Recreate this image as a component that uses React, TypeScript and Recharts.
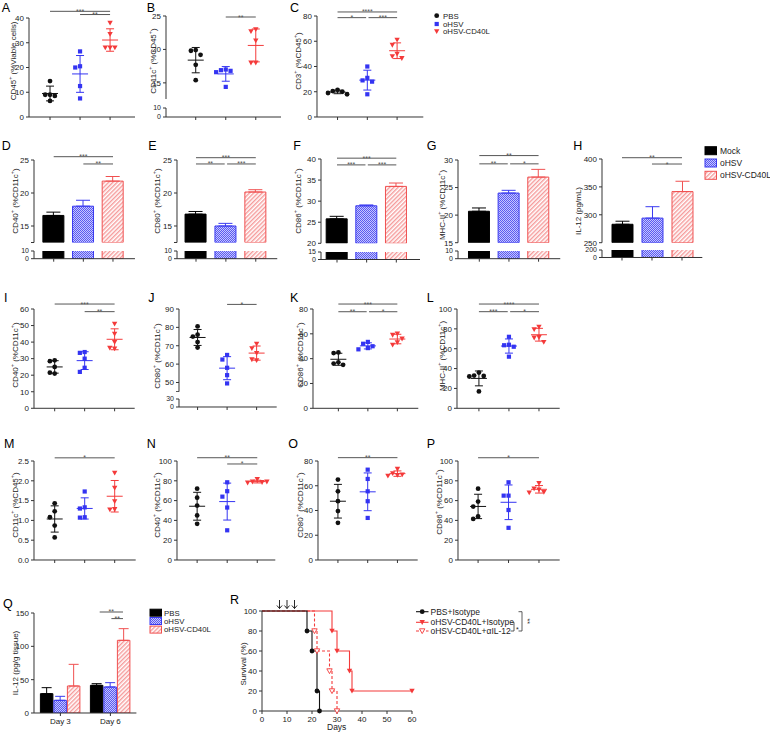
import React from "react";
import {
  ComposedChart,
  LineChart,
  Line,
  Scatter,
  Bar,
  ErrorBar,
  XAxis,
  YAxis,
  ReferenceLine,
  ReferenceDot,
} from "recharts";

const FONT = "'Liberation Sans', Arial, Helvetica, sans-serif";
const INK = "#222";
const AXIS = "#333";
const SIG = "#555";
const COLORS = ["#111111", "#3434f2", "#f43a3a"];
const BAR_FILLS = ["#000000", "url(#blueHatch)", "url(#redHatch)"];
const BAR_STROKES = ["#000000", "#3a3af0", "#f05050"];
const TICK = { fontSize: 8, fill: INK, fontFamily: FONT };

const GROUPS = ["PBS", "oHSV", "oHSV-CD40L"];
const BAR_GROUPS = ["Mock", "oHSV", "oHSV-CD40L"];

// individual mice (PBS, oHSV, oHSV-CD40L)
const cd45Viable = [[14.5, 9, 9, 8.5, 6.5], [26.5, 20.5, 20, 12.5, 7.5], [38, 33.5, 28, 28, 28]];
const cd11cOfCd45 = [[19.9, 19.8, 19.2, 17.7, 15.4], [17, 16.9, 16.8, 16.6, 14.4], [23, 22.7, 21.3, 18, 18]];
const cd3OfCd45 = [[21.5, 20.5, 20, 19, 18], [40, 31, 29, 28, 18], [61, 57, 50, 48, 46.5]];
const cd40I = [[29, 28.5, 25, 21.5, 21], [34, 33.5, 30, 24.5, 22], [51, 45, 40, 36.5, 36]];
const cd80J = [[80.5, 76, 75, 72, 69], [65, 62.5, 58, 54, 49.5], [71, 68.5, 66, 62, 62.5]];
const cd86K = [[45, 44.5, 37, 36, 35], [53.5, 52, 50, 48.5, 47.5], [60, 59, 56, 53, 51]];
const mhcL = [[36, 33, 32.5, 32, 17], [72, 64, 63.5, 62, 52], [82, 79.5, 71.5, 71, 66.5]];
const cd11cM = [[1.43, 1.23, 1.08, 0.87, 0.57], [1.73, 1.33, 1.3, 1.08, 1.07], [2.2, 1.82, 1.48, 1.28, 1.27]];
const cd40N = [[72, 63, 55, 45, 36.5], [78.5, 69.5, 64, 53, 30], [81.5, 79, 78.5, 78, 79]];
const cd80O = [[65, 55.5, 47.5, 39.5, 30], [73, 65.5, 55.5, 47.5, 34], [73.5, 70, 69, 68.5, 68]];
const cd86P = [[72, 59, 54, 44, 41.5], [78.5, 65, 65, 50.5, 32.5], [77.5, 72, 71, 68.5, 68]];

// bar panels D–H (Mock, oHSV, oHSV-CD40L): mean and error
const cd40Mean = [16.6, 18.0, 21.8];
const cd40Err = [0.5, 0.9, 0.7];
const cd80Mean = [16.8, 15.0, 20.15];
const cd80Err = [0.4, 0.4, 0.35];
const cd86Mean = [25.8, 28.9, 33.5];
const cd86Err = [0.6, 0.2, 0.8];
const mhcMean = [20.7, 24.0, 26.9];
const mhcErr = [0.6, 0.5, 1.4];
const il12Mean = [283, 294, 341.6];
const il12Err = [5.5, 20.5, 18.5];

// Q
const DAYS = ["Day 3", "Day 6"];
const qPBS = [29, 41.5];
const qOHSV = [19, 39];
const qCD40L = [40.5, 109];
const qPBSErr = [9, 2.5];
const qOHSVErr = [6, 6.5];
const qCD40LErr = [32.5, 17.5];

// R survival
const R_SERIES = ["PBS+Isotype", "oHSV-CD40L+Isotype", "oHSV-CD40L+αIL-12"];
const rDaysPBS = [0, 18, 20, 22, 23];
const rSurvPBS = [100, 80, 60, 20, 0];
const rDaysCD40L = [0, 28, 30, 35, 36, 60];
const rSurvCD40L = [100, 80, 60, 40, 20, 20];
const rDaysAnti = [0, 21, 22, 27, 28, 30];
const rSurvAnti = [100, 80, 60, 40, 20, 0];
const INJECTION_DAYS = [7, 10, 13];

const YW = 30;
const MT = 14;
const MR = 2;
const XH = 7;

type Sig = [number, number, number, string];

function mean(a: number[]) {
  return a.reduce((s, v) => s + v, 0) / a.length;
}
function sd(a: number[]) {
  const m = mean(a);
  return Math.sqrt(a.reduce((s, v) => s + (v - m) * (v - m), 0) / (a.length - 1));
}
// simple beeswarm: spread points that would overlap
function swarm(vals: number[], thr: number) {
  const placed: { v: number; o: number }[] = [];
  const slots = [0, -1, 1, -2, 2];
  return vals.map((v) => {
    const o = slots.find((s) => !placed.some((p) => p.o === s && Math.abs(p.v - v) < thr)) ?? 0;
    placed.push({ v, o });
    return o;
  });
}

function Mark({ kind, cx, cy, color, open }: any) {
  if (cx == null || cy == null) return <g />;
  if (kind === 0) return <circle cx={cx} cy={cy} r={2.4} fill={color} />;
  if (kind === 1) return <rect x={cx - 2.1} y={cy - 2.1} width={4.2} height={4.2} fill={color} />;
  return (
    <polygon
      points={`${cx - 2.7},${cy - 2.2} ${cx + 2.7},${cy - 2.2} ${cx},${cy + 2.6}`}
      fill={open ? "#fff" : color}
      stroke={open ? color : "none"}
      strokeWidth={0.9}
    />
  );
}

function sigMarks(sig: Sig[]) {
  return sig.flatMap(([a, b, y, txt], i) => [
    <ReferenceLine
      key={`sl${i}`}
      segment={[{ x: a, y }, { x: b, y }]}
      stroke={SIG}
      strokeWidth={1}
      ifOverflow="visible"
    />,
    <ReferenceDot
      key={`st${i}`}
      x={(a + b) / 2}
      y={y}
      r={0}
      ifOverflow="visible"
      shape={(p: any) => (
        <text x={p.cx} y={p.cy + 2.5} textAnchor="middle" fontSize={7} fill={SIG} fontFamily={FONT}>
          {txt}
        </text>
      )}
    />,
  ]);
}

// transparent layer carrying significance bars over a bar chart (numeric x: 1..3 = group centres)
function SigLayer({ l, t, b, r, xd, yd, sig }: any) {
  return (
    <div style={{ position: "absolute", left: l - YW, top: t - MT, pointerEvents: "none" }}>
      <ComposedChart width={YW + r - l + MR} height={MT + b - t} margin={{ top: MT, right: MR, bottom: 0, left: YW }}>
        <XAxis type="number" dataKey="x" domain={xd} hide allowDataOverflow />
        <YAxis type="number" dataKey="y" domain={yd} hide allowDataOverflow />
        {sigMarks(sig)}
      </ComposedChart>
    </div>
  );
}

interface DotCfg {
  vals: number[][];
  box: number[];
  xd: number[];
  yd: number[];
  ticks: number[];
  blank?: number[];
  dec?: number;
  brk?: { top: number; t: number; b: number };
  sig: Sig[];
}

const DOT_PANELS: DotCfg[] = [
  { vals: cd45Viable, box: [29, 17.7, 135, 116.7], xd: [0.3, 3.83], yd: [0, 40], ticks: [0, 10, 20, 30, 40],
    sig: [[1, 3, 42.7, "***"], [2, 3, 41.4, "**"]] },
  { vals: cd11cOfCd45, box: [166, 15.7, 281, 99.3], xd: [0.01, 3.84], yd: [12.5, 25], ticks: [12.5, 15, 20, 25], blank: [12.5],
    brk: { top: 10, t: 107.7, b: 116.7 }, sig: [[2, 3, 24.85, "**"]] },
  { vals: cd3OfCd45, box: [316.7, 15.7, 423, 116.7], xd: [0.31, 3.88], yd: [0, 80], ticks: [0, 20, 40, 60, 80],
    sig: [[1, 3, 83.2, "****"], [1, 1.96, 78.7, "*"], [2.04, 3, 78.7, "***"]] },
  { vals: cd40I, box: [34.3, 309, 135, 408.3], xd: [0.31, 3.67], yd: [0, 60], ticks: [0, 10, 20, 30, 40, 50, 60],
    sig: [[1, 3, 63, "***"], [2, 3, 58.4, "**"]] },
  { vals: cd80J, box: [179, 309, 276.7, 391.7], xd: [0.37, 3.68], yd: [45, 90], ticks: [45, 50, 60, 70, 80, 90], blank: [45],
    brk: { top: 30, t: 399.3, b: 407.3 }, sig: [[2, 3, 92.5, "*"]] },
  { vals: cd86K, box: [312.7, 309, 418, 408.3], xd: [0.14, 3.71], yd: [0, 80], ticks: [0, 20, 40, 60, 80],
    sig: [[1, 3, 84, "***"], [1, 1.96, 77.8, "**"], [2.04, 3, 77.8, "*"]] },
  { vals: mhcL, box: [457.3, 309, 560, 408.3], xd: [0.27, 3.69], yd: [0, 100], ticks: [0, 20, 40, 60, 80, 100],
    sig: [[1, 3, 105, "****"], [1, 1.96, 97.3, "***"], [2.04, 3, 97.3, "*"]] },
  { vals: cd11cM, box: [34.3, 461, 136, 560], xd: [0.31, 3.7], yd: [0, 2.5], ticks: [0, 0.5, 1, 1.5, 2, 2.5], dec: 1,
    sig: [[1, 3, 2.58, "*"]] },
  { vals: cd40N, box: [176.7, 461, 275, 560], xd: [0.33, 3.6], yd: [0, 100], ticks: [0, 20, 40, 60, 80, 100],
    sig: [[1, 3, 103.3, "**"], [2, 3, 97, "*"]] },
  { vals: cd80O, box: [318.3, 461, 418, 560], xd: [0.33, 3.68], yd: [0, 80], ticks: [0, 20, 40, 60, 80],
    sig: [[1, 3, 82.7, "**"]] },
  { vals: cd86P, box: [458.3, 461, 560, 560], xd: [0.34, 3.68], yd: [0, 100], ticks: [0, 20, 40, 60, 80, 100],
    sig: [[1, 3, 103.3, "*"]] },
];

function DotChart({ c }: { c: DotCfg }) {
  const [l, t, r, b] = c.box;
  const span = c.yd[1] - c.yd[0];
  const xh = c.brk ? 0 : XH;
  const fmt = (v: number) => (c.blank?.includes(v) ? "" : c.dec ? v.toFixed(c.dec) : String(v));
  const series = c.vals.flatMap((vals, gi) => {
    const offs = swarm(vals, span * 0.06);
    const pts = vals.map((v, k) => ({ x: gi + 1 + offs[k] * 0.16, y: v }));
    const summary = [{ x: gi + 1, y: mean(vals), sd: sd(vals) }];
    return [
      <Scatter
        key={`p${gi}`}
        data={pts}
        isAnimationActive={false}
        shape={(p: any) => <Mark kind={gi} cx={p.cx} cy={p.cy} color={COLORS[gi]} />}
      />,
      <Scatter
        key={`m${gi}`}
        data={summary}
        isAnimationActive={false}
        shape={(p: any) => (
          <line x1={p.cx - 8} x2={p.cx + 8} y1={p.cy} y2={p.cy} stroke={COLORS[gi]} strokeWidth={1} />
        )}
      >
        <ErrorBar dataKey="sd" direction="y" width={4} stroke={COLORS[gi]} strokeWidth={1} isAnimationActive={false} />
      </Scatter>,
    ];
  });
  return (
    <>
      <div style={{ position: "absolute", left: l - YW, top: t - MT }}>
        <ComposedChart width={YW + r - l + MR} height={MT + b - t + xh} margin={{ top: MT, right: MR, bottom: 0, left: 0 }}>
          <XAxis type="number" dataKey="x" domain={c.xd} ticks={[1, 2, 3]} tickFormatter={() => ""} hide={!!c.brk}
            height={XH} tickSize={3} stroke={AXIS} allowDataOverflow />
          <YAxis type="number" dataKey="y" domain={c.yd} ticks={c.ticks} tickFormatter={fmt} width={YW} tickSize={3}
            tick={TICK} stroke={AXIS} allowDataOverflow interval={0} />
          {sigMarks(c.sig)}
          {series}
        </ComposedChart>
      </div>
      {c.brk && (
        <div style={{ position: "absolute", left: l - YW, top: c.brk.t - 5 }}>
          <ComposedChart width={YW + r - l + MR} height={5 + c.brk.b - c.brk.t + XH} margin={{ top: 5, right: MR, bottom: 0, left: 0 }}>
            <XAxis type="number" dataKey="x" domain={c.xd} ticks={[1, 2, 3]} tickFormatter={() => ""} height={XH}
              tickSize={3} stroke={AXIS} allowDataOverflow />
            <YAxis type="number" dataKey="y" domain={[0, c.brk.top]} ticks={[0, c.brk.top]} width={YW} tickSize={3}
              tick={{ ...TICK, fontSize: 7 }} stroke={AXIS} allowDataOverflow interval={0} />
          </ComposedChart>
        </div>
      )}
    </>
  );
}

interface BarCfg {
  mean: number[];
  err: number[];
  l: number;
  r: number;
  ctr: number[];
  up: number[];
  yd: number[];
  ticks: number[];
  blank?: number[];
  lo: number[];
  loTop: number;
  sig: Sig[];
}

const BAR_PANELS: BarCfg[] = [
  { mean: cd40Mean, err: cd40Err, l: 34, r: 135, ctr: [53.7, 83, 113], up: [160, 242.5], yd: [12.5, 25],
    ticks: [12.5, 15, 20, 25], blank: [12.5], lo: [251, 258.7], loTop: 10,
    sig: [[1, 3, 25.5, "***"], [2, 3, 24.4, "**"]] },
  { mean: cd80Mean, err: cd80Err, l: 176.7, r: 277, ctr: [195.7, 225.7, 255.5], up: [160, 242.5], yd: [12.5, 25],
    ticks: [12.5, 15, 20, 25], blank: [12.5], lo: [251, 258.7], loTop: 10,
    sig: [[1, 3, 25.35, "***"], [1, 1.96, 24.4, "**"], [2.04, 3, 24.4, "***"]] },
  { mean: cd86Mean, err: cd86Err, l: 321, r: 420, ctr: [337, 366.3, 396.3], up: [159, 243.3], yd: [20, 40],
    ticks: [20, 25, 30, 35, 40], lo: [251.5, 259], loTop: 15,
    sig: [[1, 3, 40.2, "***"], [1, 1.96, 38.6, "***"], [2.04, 3, 38.6, "***"]] },
  { mean: mhcMean, err: mhcErr, l: 457.7, r: 560, ctr: [479, 508.3, 538.3], up: [160, 242.7], yd: [15, 30],
    ticks: [15, 20, 25, 30], lo: [251, 258.7], loTop: 10,
    sig: [[1, 3, 30.8, "**"], [1, 1.96, 29.3, "**"], [2.04, 3, 29.3, "*"]] },
  { mean: il12Mean, err: il12Err, l: 601.7, r: 702, ctr: [621.7, 651.7, 681.7], up: [159, 242.7], yd: [250, 400],
    ticks: [250, 300, 350, 400], lo: [250, 257.5], loTop: 200,
    sig: [[1, 3, 402.3, "**"], [2, 3, 391, "*"]] },
];

function BarPanel({ c }: { c: BarCfg }) {
  const s = (c.ctr[2] - c.ctr[0]) / 2;
  const pad = { left: c.ctr[0] - c.l - s / 2, right: c.r - c.ctr[2] - s / 2 };
  const nd = [1 - (c.ctr[0] - c.l) / s, 3 + (c.r - c.ctr[2]) / s];
  const rows = BAR_GROUPS.map((g, i) => ({ name: g, [`v${i}`]: c.mean[i], [`e${i}`]: [0, c.err[i]] }));
  const w = YW + c.r - c.l + MR;
  const MB = 5;
  const fmt = (v: number) => (c.blank?.includes(v) ? "" : String(v));
  const bars = (withErr: boolean) =>
    BAR_GROUPS.map((g, i) => (
      <Bar key={g} dataKey={`v${i}`} fill={BAR_FILLS[i]} stroke={BAR_STROKES[i]} strokeWidth={1}
        barSize={21} isAnimationActive={false}>
        {withErr && (
          <ErrorBar dataKey={`e${i}`} direction="y" width={7} stroke={BAR_STROKES[i]} strokeWidth={1} isAnimationActive={false} />
        )}
      </Bar>
    ));
  return (
    <>
      <div style={{ position: "absolute", left: c.l - YW, top: c.up[0] - MT }}>
        <ComposedChart width={w} height={MT + c.up[1] - c.up[0] + MB} data={rows} barGap={-21}
          margin={{ top: MT, right: MR, bottom: MB, left: 0 }}>
          <XAxis dataKey="name" type="category" padding={pad} hide />
          <YAxis type="number" domain={c.yd} ticks={c.ticks} tickFormatter={fmt} width={YW} tickSize={3} tick={TICK}
            stroke={AXIS} allowDataOverflow interval={0} />
          {bars(true)}
        </ComposedChart>
      </div>
      <div style={{ position: "absolute", left: c.l - YW, top: c.lo[0] - 5 }}>
        <ComposedChart width={w} height={5 + c.lo[1] - c.lo[0] + XH} data={rows} barGap={-21}
          margin={{ top: 5, right: MR, bottom: 0, left: 0 }}>
          <XAxis dataKey="name" type="category" padding={pad} tickFormatter={() => ""} height={XH}
            tickSize={3} stroke={AXIS} />
          <YAxis type="number" domain={[0, c.loTop]} ticks={[0, c.loTop]} width={YW} tickSize={3}
            tick={{ ...TICK, fontSize: 7 }} stroke={AXIS} allowDataOverflow interval={0} />
          {bars(false)}
        </ComposedChart>
      </div>
      <SigLayer l={c.l} t={c.up[0]} b={c.up[1]} r={c.r} xd={nd} yd={c.yd} sig={c.sig} />
    </>
  );
}

function QChart() {
  const means = [qPBS, qOHSV, qCD40L];
  const errs = [qPBSErr, qOHSVErr, qCD40LErr];
  const rows = DAYS.map((d, j) => {
    const row: any = { name: d };
    means.forEach((m, i) => {
      row[`v${i}`] = m[j];
      row[`e${i}`] = [0, errs[i][j]];
    });
    return row;
  });
  const l = 34.3, t = 612.7, r = 136.7, b = 712.7;
  const sig: Sig[] = [[1.314, 1.78, 151.5, "**"], [1.548, 1.78, 141.6, "**"]];
  return (
    <>
      <div style={{ position: "absolute", left: l - YW, top: t - MT }}>
        <ComposedChart width={YW + r - l + MR} height={MT + b - t + 16} data={rows} barGap={1}
          margin={{ top: MT, right: MR, bottom: 0, left: 0 }}>
          <XAxis dataKey="name" type="category" padding={{ left: 1.4, right: 1 }} height={16}
            tickSize={3} tick={TICK} stroke={AXIS} />
          <YAxis type="number" domain={[0, 150]} ticks={[0, 50, 100, 150]} width={YW} tickSize={3} tick={TICK}
            stroke={AXIS} allowDataOverflow interval={0} />
          {GROUPS.map((g, i) => (
            <Bar key={g} dataKey={`v${i}`} fill={BAR_FILLS[i]} stroke={BAR_STROKES[i]} strokeWidth={1}
              barSize={12.5} isAnimationActive={false}>
              <ErrorBar dataKey={`e${i}`} direction="y" width={5} stroke={BAR_STROKES[i]} strokeWidth={1} isAnimationActive={false} />
            </Bar>
          ))}
        </ComposedChart>
      </div>
      <SigLayer l={l} t={t} b={b} r={r} xd={[0, (r - l) / 50]} yd={[0, 150]} sig={sig} />
    </>
  );
}

function RChart() {
  const l = 261.7, t = 610.7, r = 411.7, b = 710.7;
  const mk = (ts: number[], ss: number[]) => ts.map((d, i) => ({ t: d, s: ss[i] }));
  const red = COLORS[2];
  const dot = (kind: number, color: string, open = false) => (p: any) =>
    p.index === 0 ? <g key={`d${p.index}`} /> : <Mark key={`d${p.index}`} kind={kind} cx={p.cx} cy={p.cy} color={color} open={open} />;
  return (
    <div style={{ position: "absolute", left: l - YW, top: t - MT }}>
      <LineChart width={YW + r - l + 8} height={MT + b - t + 14} margin={{ top: MT, right: 8, bottom: 0, left: 0 }}>
        <XAxis type="number" dataKey="t" domain={[0, 60]} ticks={[0, 10, 20, 30, 40, 50, 60]} height={14} tickSize={3}
          tick={TICK} stroke={AXIS} interval={0} />
        <YAxis type="number" domain={[0, 100]} ticks={[0, 20, 40, 60, 80, 100]} width={YW} tickSize={3} tick={TICK}
          stroke={AXIS} interval={0} />
        {INJECTION_DAYS.map((d) => (
          <ReferenceDot key={d} x={d} y={100} r={0} ifOverflow="visible"
            shape={(p: any) => (
              <g stroke="#111" strokeWidth={0.9} fill="none">
                <line x1={p.cx} x2={p.cx} y1={p.cy - 11} y2={p.cy - 2.5} />
                <polyline points={`${p.cx - 2.6},${p.cy - 5.5} ${p.cx},${p.cy - 2.5} ${p.cx + 2.6},${p.cy - 5.5}`} />
              </g>
            )} />
        ))}
        <Line data={mk(rDaysAnti, rSurvAnti)} dataKey="s" type="stepAfter" stroke={red} strokeWidth={1.1}
          strokeDasharray="3 2" dot={dot(2, red, true)} isAnimationActive={false} />
        <Line data={mk(rDaysCD40L, rSurvCD40L)} dataKey="s" type="stepAfter" stroke={red} strokeWidth={1.1}
          dot={dot(2, red)} isAnimationActive={false} />
        <Line data={mk(rDaysPBS, rSurvPBS)} dataKey="s" type="stepAfter" stroke="#111" strokeWidth={1.1}
          dot={dot(0, "#111")} isAnimationActive={false} />
      </LineChart>
    </div>
  );
}

const LETTERS: [string, number, number][] = [
  ["A", 1.7, 11.7], ["B", 146.7, 11.7], ["C", 290, 11.5],
  ["D", 1.7, 150], ["E", 148.3, 150], ["F", 293.3, 150], ["G", 426.7, 150], ["H", 573.3, 150],
  ["I", 4, 301.7], ["J", 148.3, 301.7], ["K", 290, 301.7], ["L", 426.7, 301.7],
  ["M", 4, 447.7], ["N", 146.7, 447.7], ["O", 288.3, 447.7], ["P", 426.7, 447.7],
  ["Q", 3, 607.7], ["R", 230, 604.3],
];

const Y_TITLES: [string, number, number][] = [
  ["CD45⁺ (%Viable cells)", 13.3, 61], ["CD11c⁺ (%CD45⁺)", 153.3, 61], ["CD3⁺ (%CD45⁺)", 298.3, 61],
  ["CD40⁺ (%CD11c⁺)", 15, 201], ["CD80⁺ (%CD11c⁺)", 156.7, 201], ["CD86⁺ (%CD11c⁺)", 298.3, 201],
  ["MHC-II⁺ (%CD11c⁺)", 441.7, 205], ["IL-12 (pg/mL)", 578.3, 211],
  ["CD40⁺ (%CD11c⁺)", 15, 355], ["CD80⁺ (%CD11c⁺)", 156.7, 356], ["CD86⁺ (%CD11c⁺)", 300, 355],
  ["MHC-II⁺ (%CD11c⁺)", 441.7, 356],
  ["CD11c⁺ (%CD45⁺)", 15, 505], ["CD40⁺ (%CD11c⁺)", 156.7, 505], ["CD80⁺ (%CD11c⁺)", 300, 505],
  ["CD86⁺ (%CD11c⁺)", 439.3, 502],
  ["IL-12 (pg/g tissue)", 15, 663], ["Survival (%)", 242.7, 664],
];

function SupText({ s, x, y, size, rotate }: any) {
  const parts = s.split("⁺");
  const kids: any[] = [];
  parts.forEach((p: string, i: number) => {
    kids.push(<tspan key={`a${i}`} dy={i > 0 ? 3 : 0}>{p}</tspan>);
    if (i < parts.length - 1) kids.push(<tspan key={`s${i}`} dy={-3} fontSize={size * 0.68}>+</tspan>);
  });
  return (
    <text x={x} y={y} fontSize={size} fill={INK} fontFamily={FONT} textAnchor="middle" dominantBaseline="central"
      transform={rotate ? `rotate(-90 ${x} ${y})` : undefined}>
      {kids}
    </text>
  );
}

function Swatch({ i, x, y, w, h }: any) {
  return <rect x={x} y={y - h / 2} width={w} height={h} fill={BAR_FILLS[i]} stroke={BAR_STROKES[i]} strokeWidth={1} />;
}

function Overlay() {
  const lx = 416, ys = [611.7, 622.3, 631];
  const red = COLORS[2];
  return (
    <svg width={770} height={733} style={{ position: "absolute", left: 0, top: 0, pointerEvents: "none" }}>
      {LETTERS.map(([t, x, y]) => (
        <text key={t} x={x} y={y} fontSize={12.5} fill="#000" fontFamily={FONT}>{t}</text>
      ))}
      {Y_TITLES.map(([t, x, y], i) => <SupText key={i} s={t} x={x} y={y} size={8} rotate />)}

      {GROUPS.map((g, i) => {
        const y = [15.7, 24, 31.5][i];
        return (
          <g key={g}>
            <Mark kind={i} cx={436.7} cy={y} color={COLORS[i]} />
            <text x={443} y={y + 2.8} fontSize={7.8} fill={INK} fontFamily={FONT}>{g}</text>
          </g>
        );
      })}

      {BAR_GROUPS.map((g, i) => {
        const y = [150.7, 163, 175.3][i];
        return (
          <g key={g}>
            <Swatch i={i} x={705} y={y} w={11.5} h={8} />
            <text x={720} y={y + 3} fontSize={8.5} fill={INK} fontFamily={FONT}>{g}</text>
          </g>
        );
      })}

      {GROUPS.map((g, i) => {
        const y = [612.7, 621, 629.6][i];
        return (
          <g key={g}>
            <Swatch i={i} x={150} y={y} w={11.5} h={7} />
            <text x={164} y={y + 2.8} fontSize={7.8} fill={INK} fontFamily={FONT}>{g}</text>
          </g>
        );
      })}

      {R_SERIES.map((g, i) => {
        const y = ys[i];
        const col = i === 0 ? "#111" : red;
        return (
          <g key={g}>
            <line x1={lx} x2={lx + 12.5} y1={y} y2={y} stroke={col} strokeWidth={1.1} strokeDasharray={i === 2 ? "3 2" : undefined} />
            <Mark kind={i === 0 ? 0 : 2} cx={lx + 6.2} cy={y} color={col} open={i === 2} />
            <text x={lx + 14.5} y={y + 3} fontSize={8.5} fill={INK} fontFamily={FONT}>{g}</text>
          </g>
        );
      })}
      <path d={`M510.5 ${ys[1]} H514 V${ys[2]} H510.5`} fill="none" stroke="#333" strokeWidth={0.8} />
      <text x={516} y={ys[2] + 1} fontSize={7} fill={INK} fontFamily={FONT}>*</text>
      <path d={`M518.5 ${ys[0]} H522 V${ys[2]} H518.5`} fill="none" stroke="#333" strokeWidth={0.8} />
      <text x={525} y={(ys[0] + ys[2]) / 2} fontSize={7} fill={INK} fontFamily={FONT} textAnchor="middle"
        transform={`rotate(90 525 ${(ys[0] + ys[2]) / 2})`}>**</text>

      <text x={336.7} y={730} fontSize={8.5} fill={INK} fontFamily={FONT} textAnchor="middle">Days</text>
    </svg>
  );
}

export default function App() {
  return (
    <div style={{ position: "absolute", left: 0, top: 0, width: 770, height: 733, background: "#fff", overflow: "hidden" }}>
      <svg width={0} height={0} style={{ position: "absolute" }}>
        <defs>
          <pattern id="blueHatch" width={2} height={2} patternUnits="userSpaceOnUse">
            <rect width={2} height={2} fill="#c6c6ff" />
            <rect width={1} height={1} fill="#5a5af0" />
            <rect x={1} y={1} width={1} height={1} fill="#5a5af0" />
          </pattern>
          <pattern id="redHatch" width={3} height={3} patternUnits="userSpaceOnUse" patternTransform="rotate(45)">
            <rect width={3} height={3} fill="#ffffff" />
            <rect width={1.4} height={3} fill="#f59a9a" />
          </pattern>
        </defs>
      </svg>
      {DOT_PANELS.map((c, i) => <DotChart key={`dot${i}`} c={c} />)}
      {BAR_PANELS.map((c, i) => <BarPanel key={`bar${i}`} c={c} />)}
      <QChart />
      <RChart />
      <Overlay />
    </div>
  );
}
